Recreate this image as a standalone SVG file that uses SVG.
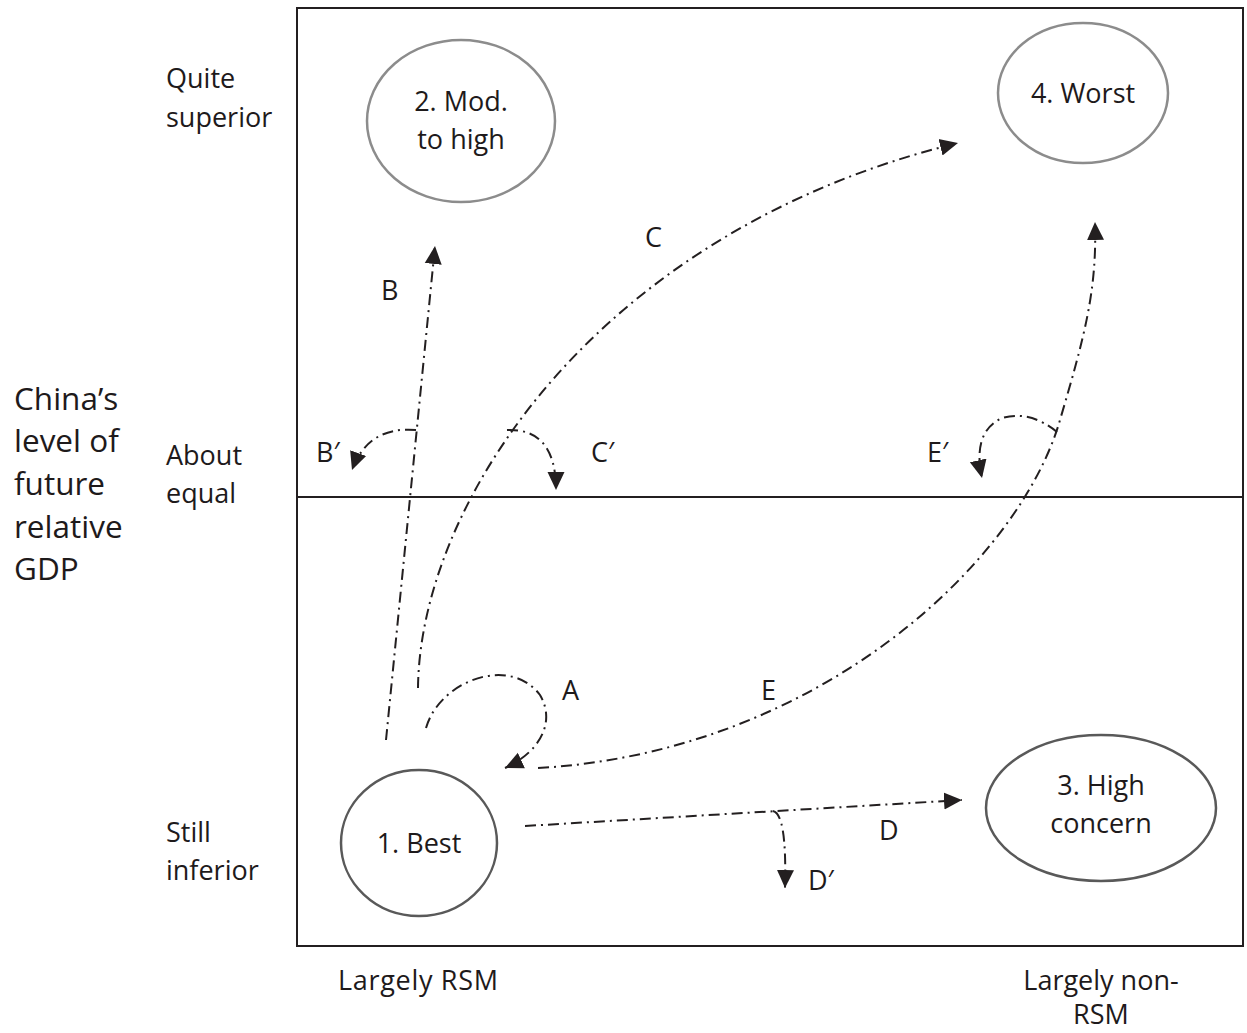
<svg xmlns="http://www.w3.org/2000/svg" width="1247" height="1033" viewBox="0 0 1247 1033">
  <style>
    text { font-family: "Open Sans", "Liberation Sans", sans-serif; font-size: 27px; fill: #1e1a1b; }
    .mid { text-anchor: middle; }
    .big { font-size: 31.5px; }
    .frame { fill: none; stroke: #231f20; stroke-width: 2; }
    .node-light { fill: #fff; stroke: #8c8c8c; stroke-width: 2.5; }
    .node-dark { fill: #fff; stroke: #595959; stroke-width: 2.5; }
    .flow { fill: none; stroke: #231f20; stroke-width: 2; stroke-dasharray: 11 5 2 5; }
  </style>
  <defs>
    <marker id="head" markerUnits="userSpaceOnUse" markerWidth="20" markerHeight="20" viewBox="0 0 20 20" refX="18" refY="10" orient="auto">
      <path d="M0,1.5 L18,10 L0,18.5 z" fill="#231f20"/>
    </marker>
  </defs>

  <rect width="1247" height="1033" fill="#fff"/>

  <!-- outer frame and the "about equal" divider -->
  <g id="frame">
    <rect class="frame" x="297" y="8" width="946" height="938"/>
    <line class="frame" x1="297" y1="497" x2="1243" y2="497"/>
  </g>

  <!-- axis labels -->
  <g id="axis-y">
    <text class="big" x="14" y="410">China’s</text>
    <text class="big" x="14" y="452">level of</text>
    <text class="big" x="14" y="495">future</text>
    <text class="big" x="14" y="538">relative</text>
    <text class="big" x="14" y="580">GDP</text>
    <text x="166" y="88">Quite</text>
    <text x="166" y="127">superior</text>
    <text x="166" y="465">About</text>
    <text x="166" y="503">equal</text>
    <text x="166" y="842">Still</text>
    <text x="166" y="880">inferior</text>
  </g>
  <g id="axis-x">
    <text x="338" y="990" textLength="160">Largely RSM</text>
    <text class="mid" x="1101" y="990">Largely non-</text>
    <text class="mid" x="1101" y="1024">RSM</text>
  </g>

  <!-- outcome nodes -->
  <g id="node-2">
    <ellipse class="node-light" cx="461" cy="121" rx="94" ry="81"/>
    <text class="mid" x="461" y="111">2. Mod.</text>
    <text class="mid" x="461" y="149">to high</text>
  </g>
  <g id="node-4">
    <ellipse class="node-light" cx="1083" cy="93" rx="85" ry="70"/>
    <text class="mid" x="1083" y="103">4. Worst</text>
  </g>
  <g id="node-1">
    <ellipse class="node-dark" cx="419" cy="843" rx="78" ry="73"/>
    <text class="mid" x="419" y="853">1. Best</text>
  </g>
  <g id="node-3">
    <ellipse class="node-dark" cx="1101" cy="808" rx="115" ry="73"/>
    <text class="mid" x="1101" y="795">3. High</text>
    <text class="mid" x="1101" y="833">concern</text>
  </g>

  <!-- transition paths -->
  <g id="connectors">
    <path id="path-A" class="flow" marker-end="url(#head)" d="M426,728 C440,680 510,655 540,695 C556,722 540,752 505,768"/>
    <path id="path-B" class="flow" marker-end="url(#head)" d="M386,740 L435,246"/>
    <path id="path-B2" class="flow" marker-end="url(#head)" d="M416,430 Q368,426 352,470"/>
    <path id="path-C" class="flow" marker-end="url(#head)" d="M418,688 C420,500 600,230 958,143"/>
    <path id="path-C2" class="flow" marker-end="url(#head)" d="M507,430 Q556,428 556,490"/>
    <path id="path-D" class="flow" marker-end="url(#head)" d="M525,826 L962,800"/>
    <path id="path-D2" class="flow" marker-end="url(#head)" d="M773,811 Q787,814 785,888"/>
    <path id="path-E" class="flow" marker-end="url(#head)" d="M538,768 C820,752 1020,560 1060,420 C1085,335 1097,290 1095,222"/>
    <path id="path-E2" class="flow" marker-end="url(#head)" d="M1057,432 Q1030,410 1002,418 Q972,432 982,478"/>
  </g>

  <!-- path labels -->
  <g id="labels">
    <text x="562" y="700">A</text>
    <text x="381" y="300">B</text>
    <text x="645" y="247">C</text>
    <text x="879" y="840">D</text>
    <text x="761" y="700">E</text>
    <text x="316" y="462">B′</text>
    <text x="591" y="462">C′</text>
    <text x="927" y="462">E′</text>
    <text x="808" y="890">D′</text>
  </g>
</svg>
